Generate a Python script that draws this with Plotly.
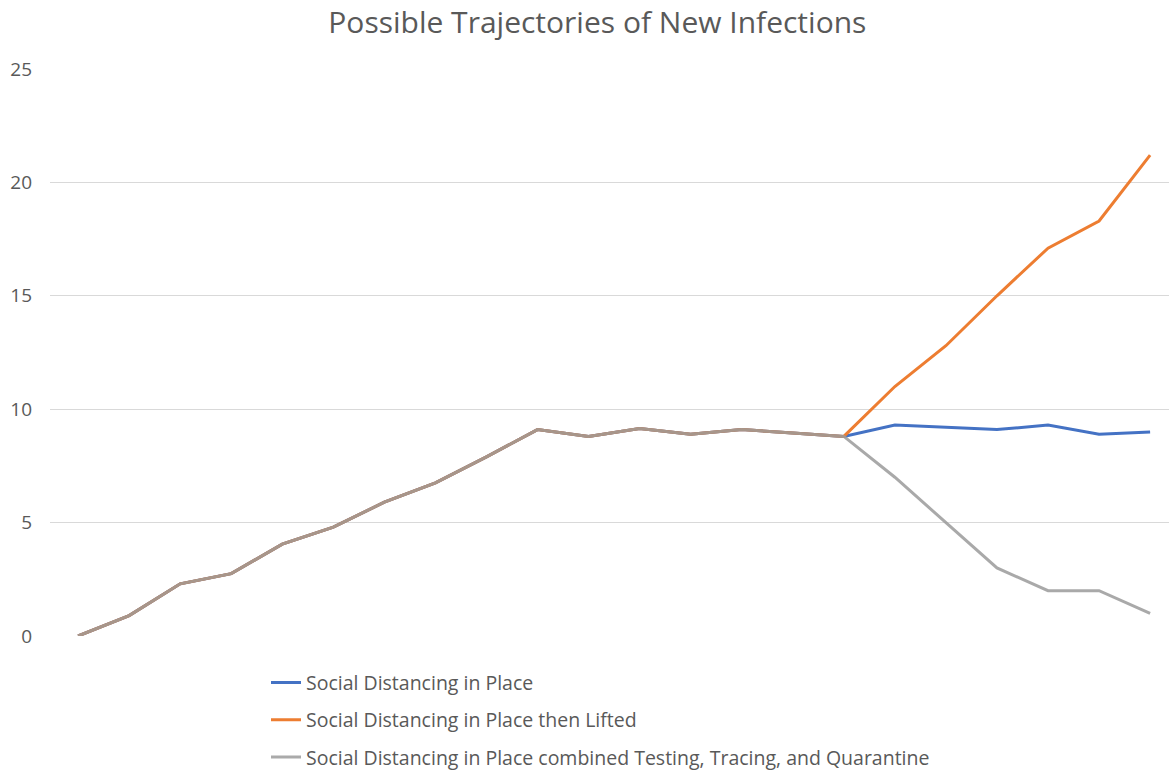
import plotly.graph_objects as go

# Time steps (unlabelled on the chart)
steps = list(range(22))

# Shared history up to the branching point, then three scenarios
shared = [0, 0.9, 2.3, 2.75, 4.05, 4.8, 5.9, 6.75, 7.9, 9.1, 8.8, 9.15, 8.9, 9.1, 8.95, 8.8]
in_place_tail = [9.3, 9.2, 9.1, 9.3, 8.9, 9.0]
lifted_tail = [11.0, 12.8, 15.0, 17.1, 18.3, 21.2]
ttq_tail = [7.0, 5.0, 3.0, 2.0, 2.0, 1.0]

series_names = [
    "Social Distancing in Place",
    "Social Distancing in Place then Lifted",
    "Social Distancing in Place combined Testing, Tracing, and Quarantine",
]
series_values = [shared + in_place_tail, shared + lifted_tail, shared + ttq_tail]
series_colors = ["#4472C4", "#ED7D31", "#9B9B9B"]
series_opacity = [1.0, 1.0, 0.85]

y_ticks = [0, 5, 10, 15, 20, 25]

fig = go.Figure()
for name, vals, color, op in zip(series_names, series_values, series_colors, series_opacity):
    fig.add_trace(go.Scatter(
        x=steps, y=vals, mode="lines", name=name,
        line=dict(color=color, width=3),
        opacity=op, legendgroup=name,
    ))

W, H = 1169, 770
ml, mr, mt, mb = 50, 0, 69, 134

fig.update_layout(
    width=W, height=H,
    margin=dict(l=ml, r=mr, t=mt, b=mb, autoexpand=False),
    paper_bgcolor="white", plot_bgcolor="white",
    font=dict(family="Open Sans, sans-serif", color="#595959"),
    title=dict(
        text="Possible Trajectories of New Infections",
        x=0.511, xanchor="center", y=0.971, yanchor="middle",
        font=dict(size=30, color="#595959", family="Open Sans, sans-serif"),
    ),
    xaxis=dict(
        range=[-0.55, 21.37], showgrid=False, showticklabels=False,
        zeroline=False, showline=False, ticks="",
    ),
    yaxis=dict(
        range=[0, 25], tickvals=y_ticks, showgrid=True, gridcolor="#D9D9D9",
        gridwidth=1, zeroline=False, showline=False, ticks="",
        tickfont=dict(size=19, color="#595959"), ticklabelstandoff=17,
    ),
    showlegend=True,
    legend=dict(
        x=(266 - ml) / (W - ml - mr), xanchor="left",
        y=-0.048, yanchor="top",
        font=dict(size=19.5, color="#595959"),
        tracegroupgap=9, bgcolor="rgba(0,0,0,0)",
        traceorder="grouped",
    ),
)

fig.write_html("out.html")
